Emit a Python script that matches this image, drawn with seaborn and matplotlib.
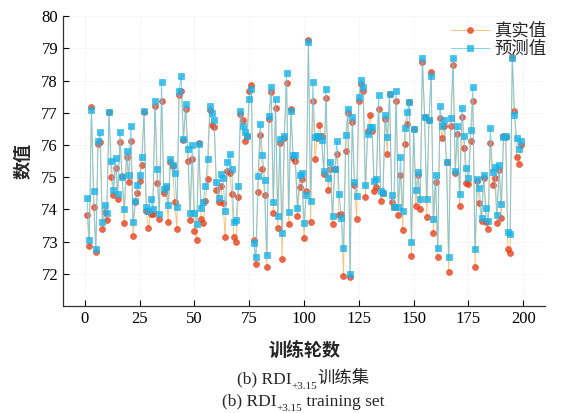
import numpy as np
import pandas as pd
import matplotlib
matplotlib.use("Agg")
import matplotlib.pyplot as plt
import seaborn as sns

sns.set_theme(style="ticks")
plt.rcParams['font.family'] = ['Liberation Serif', 'Noto Sans CJK SC', 'DejaVu Sans']
plt.rcParams['axes.unicode_minus'] = False

# ---------------- data ----------------
true_vals = [
    73.82, 72.85, 77.18, 74.07, 72.68, 76.04, 76.08, 73.40, 73.92, 73.67,
    77.01, 75.01, 74.44, 75.29, 74.31, 76.09, 75.03, 73.57, 75.62, 74.86,
    76.12, 73.18, 74.23, 74.52, 74.88, 75.39, 77.01, 73.95, 73.42, 73.87,
    73.87, 77.20, 74.82, 73.71, 77.35, 74.52, 74.65, 73.62, 75.46, 75.34,
    74.23, 73.40, 77.56, 77.68, 76.16, 77.12, 75.49, 73.67, 75.55, 73.33,
    73.05, 76.06, 73.71, 73.59, 74.26, 74.95, 77.09, 76.63, 76.55, 74.59,
    74.23, 74.74, 74.21, 73.15, 75.19, 75.13, 74.49, 73.15, 73.00, 74.39,
    76.97, 76.76, 76.11, 76.27, 77.66, 77.87, 73.04, 72.30, 74.54, 76.32,
    75.24, 74.44, 72.22, 76.80, 77.63, 73.90, 77.16, 73.43, 76.06, 72.45,
    76.22, 77.92, 73.54, 77.12, 75.60, 75.49, 73.79, 74.69, 74.93, 73.10,
    74.57, 79.26, 73.62, 77.38, 75.57, 76.22, 76.61, 76.27, 75.11, 77.47,
    74.59, 75.24, 73.56, 75.24, 75.72, 73.82, 73.85, 71.94, 75.80, 76.99,
    71.89, 76.71, 74.77, 73.71, 77.38, 77.89, 77.68, 74.38, 76.44, 76.94,
    76.42, 74.57, 74.70, 77.12, 74.26, 74.52, 76.80, 75.73, 77.58, 74.23,
    74.07, 77.37, 73.82, 75.08, 73.35, 76.04, 76.65, 77.32, 72.54, 76.49,
    74.10, 75.08, 74.00, 78.57, 76.87, 73.77, 76.78, 78.26, 73.28, 74.85,
    72.53, 76.84, 76.22, 76.58, 75.48, 72.07, 76.58, 78.48, 75.13, 76.34,
    74.10, 76.88, 75.91, 74.82, 74.80, 76.11, 77.35, 72.22, 74.88, 74.19,
    73.64, 74.98, 73.62, 73.40, 76.06, 74.75, 74.98, 73.59, 75.22, 73.74,
    76.27, 76.25, 72.76, 72.64, 78.74, 77.04, 75.62, 75.41, 76.01,
]
pred_vals = [
    74.35, 73.05, 77.09, 74.57, 72.76, 76.12, 76.39, 73.61, 74.13, 73.90,
    77.01, 75.50, 74.59, 75.60, 74.48, 76.40, 75.00, 74.00, 75.81, 75.06,
    76.58, 73.61, 74.26, 74.76, 75.06, 75.62, 77.04, 74.07, 73.95, 74.33,
    74.00, 77.38, 75.24, 73.85, 77.95, 74.64, 74.74, 74.13, 75.57, 75.39,
    75.13, 74.08, 77.66, 78.14, 76.19, 77.28, 75.89, 73.90, 75.99, 73.90,
    73.56, 76.03, 74.03, 74.23, 74.74, 75.55, 77.22, 76.99, 76.76, 74.85,
    74.36, 75.10, 74.96, 73.95, 75.47, 75.72, 75.26, 73.61, 73.67, 74.74,
    77.06, 76.58, 76.39, 76.27, 77.42, 77.73, 72.97, 72.51, 75.03, 76.65,
    75.70, 74.91, 72.58, 76.91, 77.79, 74.24, 77.42, 73.79, 76.19, 73.28,
    76.29, 78.23, 73.92, 77.06, 75.70, 75.70, 74.05, 75.06, 75.13, 73.59,
    74.46, 79.21, 74.26, 77.94, 76.24, 76.27, 76.29, 76.16, 75.18, 77.73,
    74.98, 75.46, 73.79, 75.26, 76.11, 74.49, 73.74, 72.80, 76.32, 77.12,
    71.99, 76.87, 74.85, 74.41, 77.50, 78.02, 77.79, 74.75, 76.35, 76.55,
    76.55, 74.88, 74.95, 77.54, 74.57, 74.52, 76.92, 76.25, 77.59, 74.46,
    74.07, 77.66, 74.07, 75.62, 73.95, 76.53, 77.03, 77.32, 73.00, 76.49,
    74.59, 75.16, 74.31, 78.71, 76.87, 74.33, 76.78, 78.15, 73.71, 75.08,
    72.80, 77.21, 76.58, 76.78, 75.48, 72.51, 76.84, 78.71, 75.18, 76.58,
    74.49, 77.16, 76.27, 75.29, 74.96, 76.47, 77.79, 72.76, 74.95, 74.67,
    73.73, 75.08, 74.03, 73.64, 76.53, 75.16, 75.32, 73.82, 75.37, 74.18,
    76.25, 76.27, 73.31, 73.25, 78.69, 76.94, 76.22, 75.88, 76.13,
]
epochs = np.arange(1, len(true_vals) + 1)
x_ticks = [0, 25, 50, 75, 100, 125, 150, 175, 200]
y_ticks = [72, 73, 74, 75, 76, 77, 78, 79, 80]

df = pd.DataFrame({'epoch': epochs, 'true': true_vals, 'pred': pred_vals})

fig = plt.figure(figsize=(5.62, 4.13), dpi=100)
ax = fig.add_axes([0.112, 0.259, 0.858, 0.702])

sns.lineplot(data=df, x='epoch', y='true', ax=ax, color='#f7b45a', lw=0.7,
             alpha=0.8, marker='o', markersize=4.3, markerfacecolor='#e8421e',
             markeredgecolor='#e8421e', markeredgewidth=0.5, label='真实值')
sns.lineplot(data=df, x='epoch', y='pred', ax=ax, color='#62c8f0', lw=0.7,
             alpha=0.8, marker='s', markersize=3.8, markerfacecolor='#18b2e6',
             markeredgecolor='#18b2e6', markeredgewidth=0.5, label='预测值')

ax.set_xlim(-10, 210)
ax.set_ylim(71, 80)
ax.set_xticks(x_ticks)
ax.set_yticks(y_ticks)
ax.tick_params(direction='in', length=4, width=0.8, labelsize=12, colors='black')
for lab in ax.get_xticklabels() + ax.get_yticklabels():
    lab.set_fontfamily('Liberation Serif')
ax.grid(True, color='#f0f0f0', linestyle='--', linewidth=0.5)
sns.despine(ax=ax)
for sp in ['left', 'bottom']:
    ax.spines[sp].set_color('#333333')
    ax.spines[sp].set_linewidth(0.9)

ax.set_xlabel('训练轮数', fontsize=13, fontweight='bold',
              family=['Noto Sans CJK SC'], labelpad=10)
ax.set_ylabel('数值', fontsize=13, fontweight='bold',
              family=['Noto Sans CJK SC'], labelpad=6)

ax.legend(loc='upper right', bbox_to_anchor=(1.035, 1.035), frameon=False,
          handlelength=2.2, handletextpad=0.3, labelspacing=0.05,
          prop={'family': ['Noto Sans CJK SC'], 'size': 12.5})


def caption(y, parts):
    # parts: (text, size, dy, family) pieces laid out left to right, centred as a whole
    fig.canvas.draw()
    r = fig.canvas.get_renderer()
    objs = []
    for txt, size, dy, fam in parts:
        t = fig.text(0, y + dy, txt, fontsize=size, family=fam, va='baseline', ha='left')
        objs.append(t)
    widths = [t.get_window_extent(r).width / fig.bbox.width for t in objs]
    x = 0.54 - sum(widths) / 2
    for t, w in zip(objs, widths):
        t.set_x(x)
        x += w


caption(0.072, [('(b) RDI', 12.5, 0, ['Liberation Serif']),
                ('+3.15', 8, -0.014, ['Liberation Serif']),
                ('训练集', 12.5, 0, ['Noto Sans CJK SC'])])
caption(0.018, [('(b) RDI', 12.5, 0, ['Liberation Serif']),
                ('+3.15', 8, -0.014, ['Liberation Serif']),
                (' training set', 12.5, 0, ['Liberation Serif'])])

fig.savefig('out.png', dpi=100)
